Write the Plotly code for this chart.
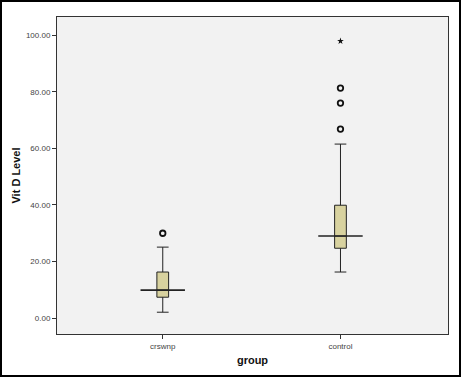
import plotly.graph_objects as go

groups = ["crswnp", "control"]
q1 = [7.4, 24.7]
median = [9.9, 29.0]
q3 = [16.3, 39.9]
lower_whisker = [2.1, 16.3]
upper_whisker = [25.1, 61.5]
outliers_circle = [[30.0], [66.8, 76.0, 81.3]]
outliers_extreme = [[], [97.9]]
y_ticks = [0, 20, 40, 60, 80, 100]
y_tick_labels = ["0.00", "20.00", "40.00", "60.00", "80.00", "100.00"]

W, H = 461, 377
ml, mr, mt, mb = 57, 13, 17, 43
pw, ph = W - ml - mr, H - mt - mb

fig = go.Figure()
for i, g in enumerate(groups):
    fig.add_trace(go.Box(
        x=[i], q1=[q1[i]], median=[median[i]], q3=[q3[i]],
        lowerfence=[lower_whisker[i]], upperfence=[upper_whisker[i]],
        boxpoints=False, width=0.066, whiskerwidth=1,
        fillcolor="#d8d29f", line=dict(color="#222222", width=1),
        showlegend=False, hoverinfo="skip"))
    # long median line
    fig.add_trace(go.Scatter(
        x=[i - 0.125, i + 0.125], y=[median[i], median[i]], mode="lines",
        line=dict(color="#222222", width=1.6), showlegend=False, hoverinfo="skip"))
    if outliers_circle[i]:
        fig.add_trace(go.Scatter(
            x=[i] * len(outliers_circle[i]), y=outliers_circle[i], mode="markers",
            marker=dict(symbol="circle-open", size=5.5, color="#111111", line=dict(width=1.8)),
            showlegend=False, hoverinfo="skip"))
    if outliers_extreme[i]:
        fig.add_trace(go.Scatter(
            x=[i] * len(outliers_extreme[i]), y=outliers_extreme[i], mode="markers",
            marker=dict(symbol="star", size=5, color="#111111"),
            showlegend=False, hoverinfo="skip"))

fig.update_layout(
    width=W, height=H,
    margin=dict(l=ml, r=mr, t=mt, b=mb),
    paper_bgcolor="white", plot_bgcolor="#f2f2f2",
    font=dict(family="Liberation Sans, Arial, sans-serif", color="#222222"),
    xaxis=dict(range=[-0.595, 1.605], tickvals=[0, 1], ticktext=groups,
               showgrid=False, zeroline=False, showline=True, linecolor="#333333",
               linewidth=1, mirror=True, ticks="outside", ticklen=4, tickcolor="#333333",
               tickfont=dict(size=8, color="#444444"),
               title=dict(text="<b>group</b>", font=dict(size=11, color="#111111"), standoff=6)),
    yaxis=dict(range=[-5.6, 106.4], tickvals=y_ticks, ticktext=y_tick_labels,
               showgrid=False, zeroline=False, showline=True, linecolor="#333333",
               linewidth=1, mirror=True, ticks="outside", ticklen=4, tickcolor="#333333",
               tickfont=dict(size=8, color="#444444"),
               title=dict(text="<b>Vit D Level</b>", font=dict(size=11, color="#111111"), standoff=3)),
)

# outer image border
fig.add_shape(type="rect", xref="paper", yref="paper",
              x0=(1 - ml) / pw, x1=(W - 1 - ml) / pw,
              y0=(ph + mt - (H - 1)) / ph, y1=(ph + mt - 1) / ph,
              line=dict(color="black", width=2), layer="above")

fig.write_html("out.html", config={"displayModeBar": False},
               post_script="document.body.style.margin='0';document.body.style.overflow='hidden';")
